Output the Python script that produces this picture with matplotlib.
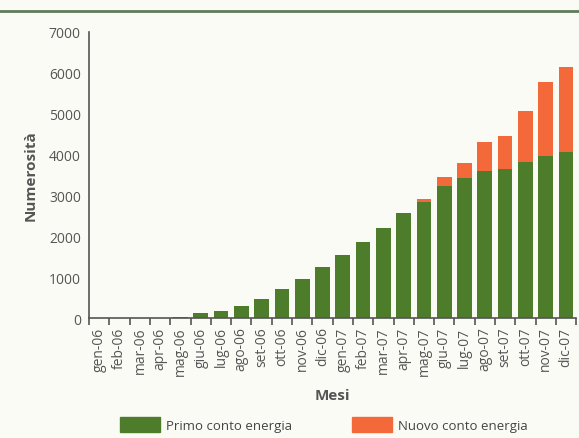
import matplotlib
matplotlib.use("Agg")
import matplotlib.pyplot as plt
import numpy as np
from matplotlib.patches import Patch

plt.rcParams['font.family'] = ['Open Sans', 'DejaVu Sans']

# Months and values
mesi = ["gen-06", "feb-06", "mar-06", "apr-06", "mag-06", "giu-06", "lug-06", "ago-06",
        "set-06", "ott-06", "nov-06", "dic-06", "gen-07", "feb-07", "mar-07", "apr-07",
        "mag-07", "giu-07", "lug-07", "ago-07", "set-07", "ott-07", "nov-07", "dic-07"]
primo = [0, 0, 0, 0, 40, 120, 180, 300, 470, 720, 960, 1260, 1550, 1860, 2200, 2570,
         2840, 3230, 3420, 3590, 3640, 3810, 3960, 4060]
nuovo = [0, 0, 0, 0, 0, 0, 0, 0, 0, 0, 0, 0, 0, 0, 0, 0,
         70, 220, 370, 710, 810, 1250, 1810, 2080]

green = "#4d7c2b"
orange = "#f4693a"
grey = "#555555"
bg = "#fbfbf6"

fig = plt.figure(figsize=(5.79, 4.39), dpi=100, facecolor=bg)
ax = fig.add_axes([0.154, 0.273, 0.841, 0.652], facecolor=bg)

x = np.arange(len(mesi))
ax.bar(x, primo, width=0.72, color=green, zorder=2)
ax.bar(x, nuovo, width=0.72, bottom=primo, color=orange, zorder=2)

ax.set_xlim(-0.5, len(mesi) - 0.5)
ax.set_ylim(0, 7000)
ax.set_yticks(range(0, 7001, 1000))
ax.tick_params(axis='y', length=0, labelsize=10, colors=grey, pad=6)

ax.set_xticks(x)
ax.set_xticklabels(mesi, rotation=90, fontsize=10, color=grey)
ax.tick_params(axis='x', which='major', length=0, pad=6)
ax.set_xticks(np.arange(-0.5, len(mesi)), minor=True)
ax.tick_params(axis='x', which='minor', length=5, width=1.2, color=grey, direction='out')

for s in ['top', 'right']:
    ax.spines[s].set_visible(False)
for s in ['left', 'bottom']:
    ax.spines[s].set_color(grey)
    ax.spines[s].set_linewidth(1.2)

ax.set_ylabel("Numerosità", fontsize=11, fontweight='bold', color=grey, labelpad=8)
ax.set_xlabel("Mesi", fontsize=11, fontweight='bold', color=grey, labelpad=9)

# rule at the top of the page
fig.add_artist(plt.Line2D([0, 1], [0.972, 0.972], color="#5f7a5c", linewidth=2))

fig.legend(handles=[Patch(color=green, label="Primo conto energia"),
                    Patch(color=orange, label="Nuovo conto energia")],
           loc='lower left', bbox_to_anchor=(120 / 579, 0.014), ncol=2, frameon=False,
           fontsize=9.5, handlelength=3.0, handleheight=1.3, handletextpad=0.45,
           columnspacing=4.6, borderpad=0, borderaxespad=0, labelcolor="#444444")

plt.savefig("out.png", dpi=100, facecolor=bg)
